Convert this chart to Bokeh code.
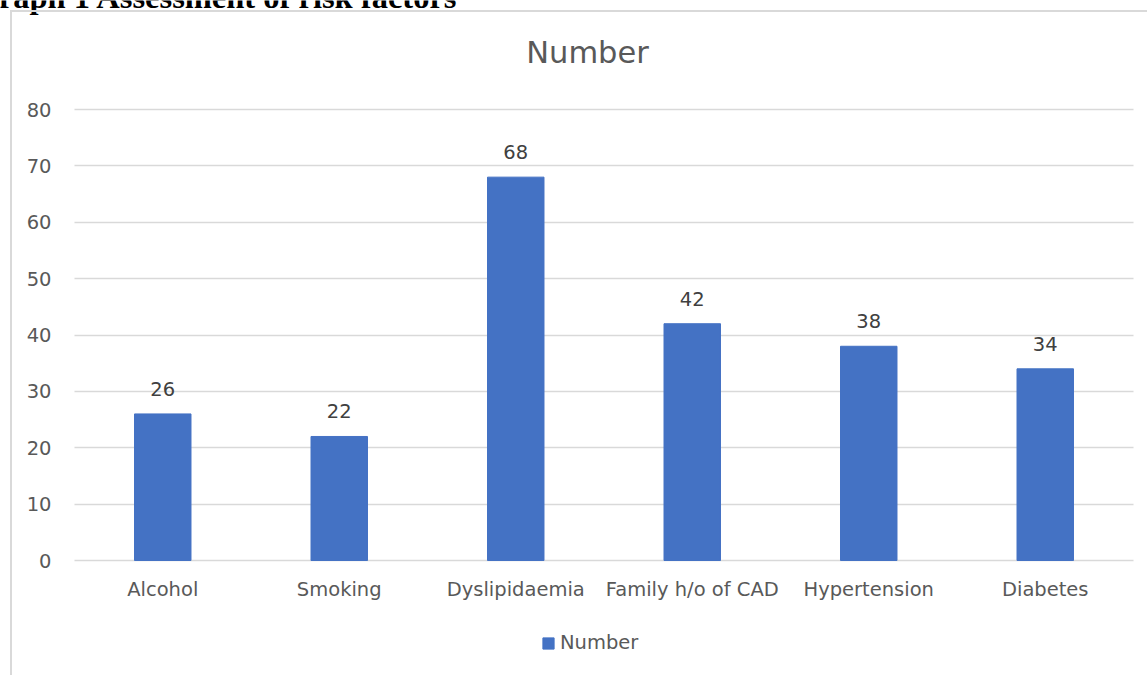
from bokeh.plotting import figure
from bokeh.models import (ColumnDataSource, Range1d, FixedTicker, Label,
                          LabelSet, Legend, LegendItem, InlineStyleSheet)
from bokeh.core.properties import value
from bokeh.embed import file_html
from bokeh.resources import INLINE

categories = ["Alcohol", "Smoking", "Dyslipidaemia", "Family h/o of CAD", "Hypertension", "Diabetes"]
values = [26, 22, 68, 42, 38, 34]
y_ticks = [0, 10, 20, 30, 40, 50, 60, 70, 80]
series_name = "Number"
chart_title = "Number"
doc_caption = "Graph 1 Assessment of risk factors"

FONT = "DejaVu Sans"
BAR = "#4472C4"
GRID = "#d9d9d9"
TXT = "#595959"
FS = "19.5px"

W, H = 1147, 675
# plot-area edges (canvas px): left, right, top(80), bottom(0)
PL, PR, PT, PB = 74, 1133, 109, 560
n = len(categories)
y_max = y_ticks[-1]
xu = (PR - PL) / n          # px per category
yu = (PB - PT) / y_max      # px per unit

xpos = [i + 0.5 for i in range(n)]
src = ColumnDataSource(dict(x=xpos, val=values, lab=[str(v) for v in values]))

css = InlineStyleSheet(css="""
:host { position: relative; }
:host::after { content: ""; position: absolute; left: 10px; top: 10px; right: 0; bottom: 0;
  border-left: 2px solid #d9d9d9; border-top: 2px solid #d9d9d9; pointer-events: none; z-index: 50; }
""")

p = figure(width=W, height=H, output_backend="svg", toolbar_location=None,
           x_range=Range1d(-PL / xu, n + (W - PR) / xu),
           y_range=Range1d(-(H - PB) / yu, y_max + PT / yu),
           min_border=0, stylesheets=[css])
p.outline_line_color = None
p.background_fill_color = "white"
p.border_fill_color = "white"

r = p.vbar(x="x", top="val", width=0.32, source=src, fill_color=BAR, line_color=BAR)

p.xgrid.grid_line_color = None
p.ygrid.grid_line_color = GRID
p.ygrid.grid_line_width = 1.5
p.ygrid.cross_bounds = (0, n)

p.yaxis.ticker = FixedTicker(ticks=y_ticks)
p.xaxis.ticker = FixedTicker(ticks=xpos)
p.xaxis.major_label_overrides = {x: c for x, c in zip(xpos, categories)}
p.yaxis.fixed_location = 0
p.xaxis.fixed_location = 0
for ax in (p.xaxis[0], p.yaxis[0]):
    ax.axis_line_color = None
    ax.major_tick_line_color = None
    ax.minor_tick_line_color = None
    ax.major_label_text_font = FONT
    ax.major_label_text_font_size = FS
    ax.major_label_text_color = TXT
p.yaxis.major_label_standoff = 17
p.xaxis.major_label_standoff = 11

labels = LabelSet(x="x", y="val", text="lab", source=src, text_align="center",
                  text_baseline="middle", y_offset=25, text_font=value(FONT),
                  text_font_size=FS, text_color="#404040")
p.add_layout(labels)

# chart title
p.add_layout(Label(x=587, y=H - 52, x_units="screen", y_units="screen",
                   text=chart_title, text_align="center", text_baseline="alphabetic",
                   text_font=FONT, text_font_size="30.5px", text_color=TXT))

# document caption (cut off at top of page, as in the source)
p.add_layout(Label(x=-27, y=H + 4, x_units="screen", y_units="screen",
                   text=doc_caption, text_align="left", text_baseline="alphabetic",
                   text_font="Liberation Serif", text_font_style="bold",
                   text_font_size="32.5px", text_color="black"))

legend = Legend(items=[LegendItem(label=series_name, renderers=[r])],
                location=(541, 21), orientation="horizontal",
                glyph_width=14, glyph_height=14, padding=0, margin=0, label_standoff=5,
                label_height=20,
                label_text_font=FONT, label_text_font_size=FS, label_text_color=TXT,
                border_line_color=None, background_fill_alpha=0)
p.add_layout(legend)

open("out.html", "w").write(file_html(p, INLINE))
